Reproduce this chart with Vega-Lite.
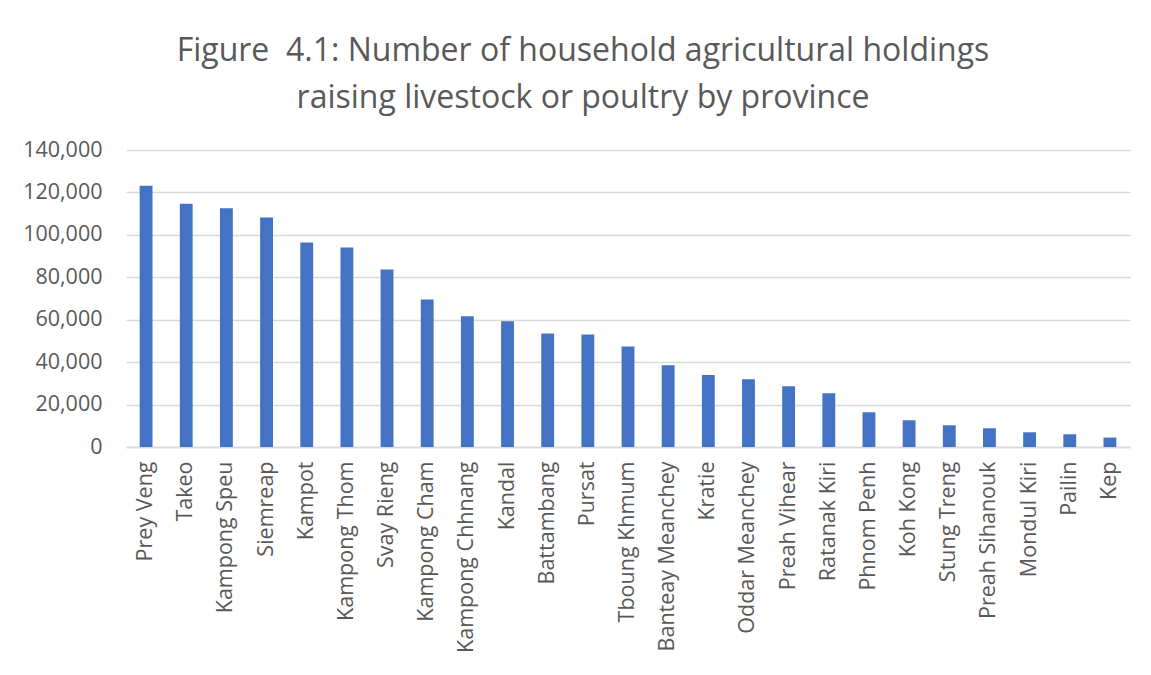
{
  "$schema": "https://vega.github.io/schema/vega-lite/v6.json",
  "autosize": {"type": "none"},
  "width": 1004,
  "height": 297,
  "padding": {"left": 126, "top": 150, "right": 21, "bottom": 228},
  "background": "white",
  "title": {
    "text": ["Figure \u00a04.1: Number of household agricultural holdings", "raising livestock or poultry by province"],
    "font": "Open Sans",
    "fontSize": 32,
    "fontWeight": "normal",
    "color": "#595959",
    "anchor": "middle",
    "lineHeight": 47,
    "dx": -45,
    "offset": 24
  },
  "data": {
    "values": [
      {"province": "Prey Veng", "holdings": 123150},
      {"province": "Takeo", "holdings": 114650},
      {"province": "Kampong Speu", "holdings": 112500},
      {"province": "Siemreap", "holdings": 108240},
      {"province": "Kampot", "holdings": 96450},
      {"province": "Kampong Thom", "holdings": 94090},
      {"province": "Svay Rieng", "holdings": 83700},
      {"province": "Kampong Cham", "holdings": 69550},
      {"province": "Kampong Chhnang", "holdings": 61670},
      {"province": "Kandal", "holdings": 59310},
      {"province": "Battambang", "holdings": 53500},
      {"province": "Pursat", "holdings": 53030},
      {"province": "Tboung Khmum", "holdings": 47370},
      {"province": "Banteay Meanchey", "holdings": 38550},
      {"province": "Kratie", "holdings": 33970},
      {"province": "Oddar Meanchey", "holdings": 31940},
      {"province": "Preah Vihear", "holdings": 28640},
      {"province": "Ratanak Kiri", "holdings": 25340},
      {"province": "Phnom Penh", "holdings": 16370},
      {"province": "Koh Kong", "holdings": 12600},
      {"province": "Stung Treng", "holdings": 10240},
      {"province": "Preah Sihanouk", "holdings": 8820},
      {"province": "Mondul Kiri", "holdings": 6940},
      {"province": "Pailin", "holdings": 5990},
      {"province": "Kep", "holdings": 4430}
    ]
  },
  "mark": {"type": "bar", "color": "#4472C4"},
  "encoding": {
    "x": {
      "field": "province",
      "type": "nominal",
      "sort": null,
      "scale": {"paddingInner": 0.68, "paddingOuter": 0.34},
      "axis": {
        "title": null,
        "labelAngle": -90,
        "labelFont": "Open Sans",
        "labelFontSize": 21.5,
        "labelColor": "#595959",
        "labelPadding": 14,
        "labelLimit": 400,
        "ticks": false,
        "domainColor": "#d9d9d9",
        "domainWidth": 1.5
      }
    },
    "y": {
      "field": "holdings",
      "type": "quantitative",
      "scale": {"domain": [0, 140000]},
      "axis": {
        "title": null,
        "values": [0, 20000, 40000, 60000, 80000, 100000, 120000, 140000],
        "format": ",d",
        "labelFont": "Open Sans",
        "labelFontSize": 21.5,
        "labelColor": "#595959",
        "labelPadding": 24,
        "ticks": false,
        "domain": false,
        "gridColor": "#d9d9d9",
        "gridWidth": 1.5
      }
    }
  },
  "config": {"view": {"stroke": null}}
}
